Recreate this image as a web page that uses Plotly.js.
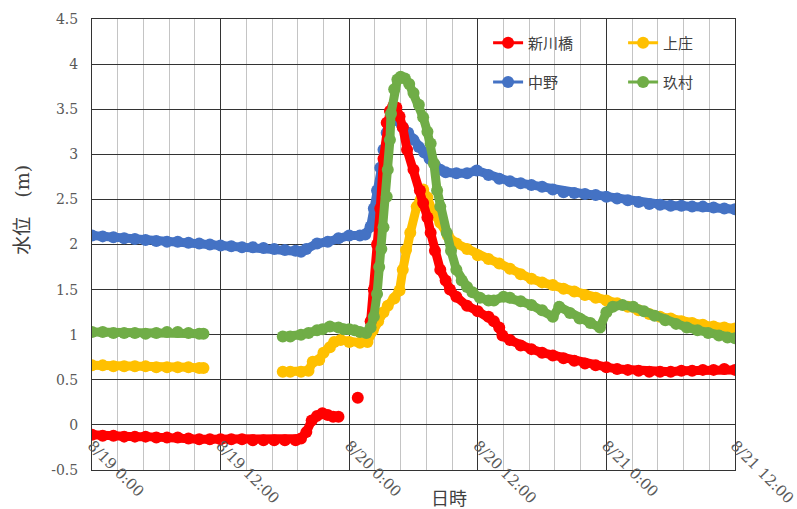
<!DOCTYPE html>
<html>
<head>
<meta charset="utf-8">
<script src="https://cdn.plot.ly/plotly-3.0.1.min.js"></script>
<style>html,body{margin:0;padding:0;background:#fff;}#chart{width:797px;height:509px;}</style>
</head>
<body>
<div id="chart"></div>
<script>
// Hours after 8/19 0:00 and water level (m)
const seriesNames = ['新川橋', '上庄', '中野', '玖村'];
const tickHours = [0, 12, 24, 36, 48, 60];
const tickLabels = ['8/19 0:00', '8/19 12:00', '8/20 0:00', '8/20 12:00', '8/21 0:00', '8/21 12:00'];
const levelTicks = [-0.5, 0, 0.5, 1, 1.5, 2, 2.5, 3, 3.5, 4, 4.5];
const levelTickLabels = ['-0.5', '0', '0.5', '1', '1.5', '2', '2.5', '3', '3.5', '4', '4.5'];
const xTitle = '日時';
const yTitle = '水位\u3000(m)';

const hoursShinkawa = [0,1,2,3,4,5,6,7,8,9,10,11,12,13,14,15,16,17,18,19,19.5,20,20.5,21,21.5,22,22.5,23,23.9,24.8,25.4,26.0,26.3,26.6,26.9,27.2,27.5,27.8,28.1,28.4,28.7,29.0,29.4,30.0,30.6,30.9,31.3,31.6,32.0,32.5,33.0,33.4,34,35,36,37,37.5,38,38.3,39,40,41,42,43,44,45,46,47,48,49,50,51,52,53,54,55,56,57,58,59,60];
const levelShinkawa = [-0.11,-0.12,-0.12,-0.13,-0.13,-0.13,-0.14,-0.14,-0.14,-0.15,-0.16,-0.16,-0.16,-0.16,-0.16,-0.17,-0.17,-0.17,-0.17,-0.17,-0.15,-0.08,0.05,0.10,0.13,0.11,0.09,0.09,null,0.30,null,1.15,1.5,2.0,2.4,2.95,3.35,3.48,3.53,3.52,3.42,3.3,3.05,2.83,2.6,2.46,2.3,2.13,1.93,1.72,1.6,1.5,1.42,1.32,1.26,1.2,1.15,1.08,0.99,0.94,0.88,0.84,0.80,0.77,0.74,0.71,0.68,0.66,0.64,0.62,0.61,0.60,0.59,0.59,0.59,0.60,0.60,0.61,0.61,0.62,0.61];

const hoursKamisho = [0,1,2,3,4,5,6,7,8,9,10,10.4,14,17.8,18.5,19.5,20.2,20.6,21.2,21.6,22.2,22.6,23.2,24,25,25.7,26.2,26.7,27.2,27.6,28.2,28.7,29.0,29.3,29.7,30.3,30.9,31.3,31.8,32.5,33.2,34,35,36,37,38,39,40,41,42,43,44,45,46,47,48,49,50,51,52,53,54,55,56,57,58,59,60];
const levelKamisho = [0.66,0.66,0.65,0.65,0.65,0.65,0.64,0.64,0.64,0.64,0.63,0.63,null,0.59,0.59,0.59,0.60,0.70,0.72,0.80,0.86,0.92,0.94,0.92,0.91,0.92,1.05,1.15,1.25,1.32,1.40,1.49,1.72,1.94,2.13,2.42,2.61,2.52,2.36,2.24,2.10,2.01,1.95,1.88,1.84,1.79,1.73,1.67,1.62,1.58,1.55,1.51,1.48,1.44,1.41,1.38,1.35,1.31,1.27,1.23,1.20,1.18,1.15,1.13,1.11,1.09,1.08,1.07];

const hoursNakano = [0,1,2,3,4,5,6,7,8,9,10,11,12,13,14,15,16,17,18,19,19.5,20,21,22,23,24,25,25.5,26,26.3,26.6,26.9,27.2,27.5,27.8,28.1,28.5,29,29.5,30,30.5,31,31.5,32,32.5,33,34,35,35.9,37,38,39,40,41,42,43,44,45,46,47,48,49,50,51,52,53,54,55,56,57,58,59,60];
const levelNakano = [2.10,2.09,2.08,2.07,2.06,2.05,2.04,2.03,2.03,2.02,2.01,2.00,1.99,1.98,1.97,1.97,1.96,1.95,1.94,1.93,1.92,1.95,2.01,2.03,2.07,2.10,2.10,2.11,2.20,2.40,2.60,2.85,3.05,3.24,3.35,3.42,3.38,3.30,3.24,3.16,3.08,3.02,2.95,2.88,2.83,2.80,2.79,2.79,2.82,2.77,2.73,2.70,2.68,2.66,2.64,2.61,2.58,2.57,2.56,2.55,2.53,2.51,2.49,2.47,2.45,2.44,2.43,2.43,2.42,2.42,2.41,2.40,2.39];

const hoursKumura = [0,1,2,3,4,5,6,7,8,9,10,10.4,14,17.8,18.5,19.5,20.2,21,21.5,22.2,23,23.5,24,24.5,25,25.6,26.0,26.3,26.6,26.8,27.0,27.2,27.5,27.6,27.8,27.9,28.2,28.5,28.8,29.2,29.6,30.0,30.5,30.9,31.3,31.6,31.9,32.2,32.5,33.1,33.5,34,34.5,35,35.5,36.2,37,37.5,38.4,39,40,41,42,43,43.6,44.6,45.5,46.5,47.4,48,48.6,49.5,50.5,51.5,52.5,53.5,54.5,55.5,56.5,57.5,58.5,59.3,60];
const levelKumura = [1.03,1.03,1.02,1.02,1.02,1.01,1.02,1.03,1.03,1.02,1.01,1.01,null,0.98,0.98,1.00,1.02,1.05,1.06,1.09,1.08,1.06,1.06,1.05,1.03,1.02,1.08,1.2,1.45,1.75,1.95,2.19,2.53,2.83,3.16,3.45,3.72,3.83,3.86,3.84,3.78,3.68,3.55,3.41,3.25,3.12,2.90,2.6,2.42,2.13,1.93,1.72,1.60,1.53,1.47,1.41,1.38,1.38,1.42,1.41,1.37,1.33,1.27,1.20,1.31,1.24,1.18,1.13,1.08,1.25,1.31,1.33,1.31,1.26,1.21,1.16,1.12,1.08,1.05,1.02,0.99,0.97,0.96];

const colors = {red: '#FF0000', yellow: '#FFC000', blue: '#4472C4', green: '#70AD47'};

// Each station: a wide band line underneath (dense logger look) + line with markers (legend)
function makeTraces(name, x, y, color, legendId, rank) {
  return [
    {
      type: 'scatter', mode: 'lines', x: x, y: y, connectgaps: false,
      line: {color: color, width: 9}, showlegend: false, hoverinfo: 'skip', legend: legendId
    },
    {
      type: 'scatter', mode: 'lines+markers', name: name, x: x, y: y,
      connectgaps: false,
      line: {color: color, width: 3},
      marker: {color: color, size: 12},
      legend: legendId, legendrank: rank,
      hoverinfo: 'x+y+name'
    }
  ];
}

const traces = [].concat(
  makeTraces(seriesNames[2], hoursNakano, levelNakano, colors.blue, 'legend2', 1),
  makeTraces(seriesNames[1], hoursKamisho, levelKamisho, colors.yellow, 'legend', 2),
  makeTraces(seriesNames[0], hoursShinkawa, levelShinkawa, colors.red, 'legend', 1),
  makeTraces(seriesNames[3], hoursKumura, levelKumura, colors.green, 'legend2', 2)
);

const tickFont = {family: 'DejaVu Serif, serif', size: 15, color: '#595959'};
const legendFont = {family: 'Noto Sans CJK JP, sans-serif', size: 15, color: '#404040'};

const layout = {
  width: 797, height: 509,
  margin: {l: 92, r: 62, t: 19, b: 39},
  paper_bgcolor: '#ffffff', plot_bgcolor: '#ffffff',
  showlegend: true,
  xaxis: {
    range: [0, 60],
    tickmode: 'array', tickvals: tickHours, ticktext: tickLabels,
    tickangle: 45,
    tickfont: tickFont,
    ticklabelstandoff: -40,
    ticklabeloverflow: 'allow',
    showgrid: true, gridcolor: '#333333', gridwidth: 1,
    minor: {dtick: 2.4, tick0: 0, showgrid: true, gridcolor: '#c4c4c4', gridwidth: 1},
    showline: true, linecolor: '#333333', linewidth: 1, mirror: true,
    zeroline: false, ticks: '', fixedrange: true
  },
  yaxis: {
    range: [-0.5, 4.5],
    tickmode: 'array', tickvals: levelTicks, ticktext: levelTickLabels,
    tickfont: {family: 'DejaVu Serif, serif', size: 14, color: '#595959'},
    ticklabelstandoff: 10,
    showgrid: true, gridcolor: '#333333', gridwidth: 1,
    showline: true, linecolor: '#333333', linewidth: 1, mirror: true,
    zeroline: false, ticks: '',
    fixedrange: true
  },
  shapes: [{
    type: 'rect', xref: 'paper', yref: 'paper', x0: 0.58, x1: 1, y0: 0.82, y1: 1,
    fillcolor: '#ffffff', line: {width: 0}, layer: 'between'
  }],
  legend: {
    orientation: 'h', x: 0.616, xanchor: 'left', y: 0.947, yanchor: 'middle',
    bgcolor: 'rgba(0,0,0,0)', font: legendFont, entrywidth: 90, traceorder: 'normal'
  },
  legend2: {
    orientation: 'h', x: 0.616, xanchor: 'left', y: 0.860, yanchor: 'middle',
    bgcolor: 'rgba(0,0,0,0)', font: legendFont, entrywidth: 90, traceorder: 'normal'
  },
  annotations: [
    {
      text: xTitle, xref: 'paper', yref: 'paper', x: 0.555, y: -0.06, xanchor: 'center', yanchor: 'middle',
      showarrow: false, font: {family: 'Noto Sans CJK JP, sans-serif', size: 18, color: '#404040'}
    },
    {
      text: yTitle, textangle: -90, xref: 'paper', yref: 'paper', x: -0.109, y: 0.577,
      xanchor: 'center', yanchor: 'middle', showarrow: false,
      font: {family: 'DejaVu Serif, Noto Sans CJK JP, serif', size: 19, color: '#404040'}
    }
  ]
};

Plotly.newPlot('chart', traces, layout, {displayModeBar: false, staticPlot: true});
</script>
</body>
</html>
